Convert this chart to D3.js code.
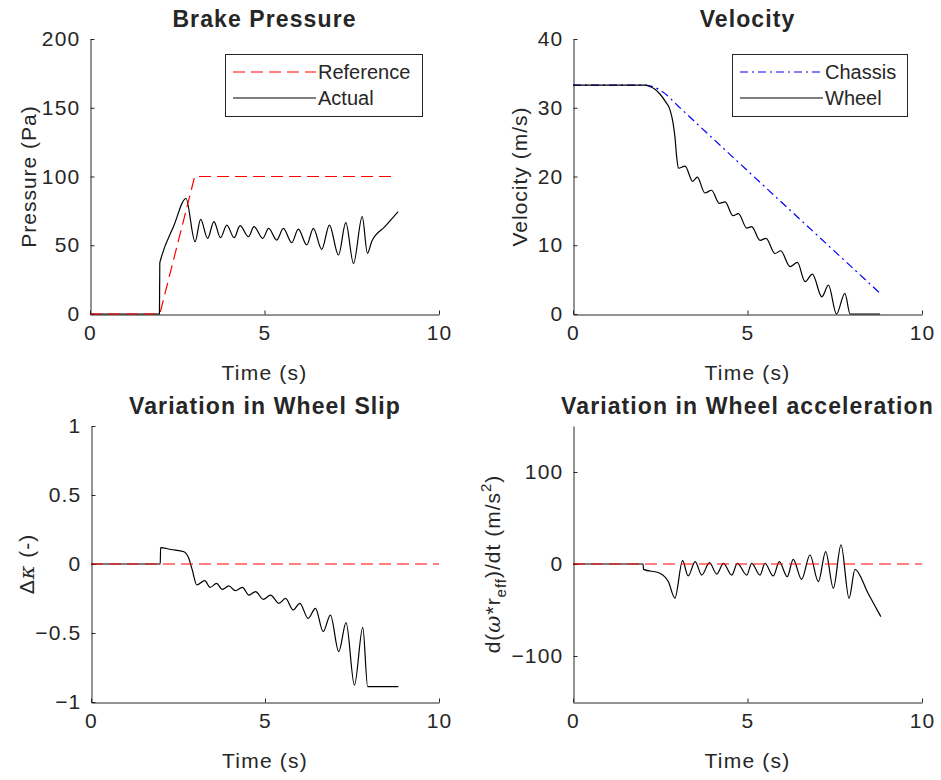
<!DOCTYPE html>
<html lang="en">
<head>
    <meta charset="UTF-8">
    <title>Brake test</title>
    <script src="https://d3js.org/d3.v7.min.js"></script>
    <style>
      body { margin: 0; background: #fff; }
      text { font-family: "Liberation Sans", Arial, sans-serif; fill: #262626; }
    </style>
</head>
<body>
<svg width="941" height="780"></svg>
<script>

// brake pressure
const refTime = [0, 2, 3, 8.8];
const refPressure = [0, 0, 100, 100];
const actTime = [0, 1.99, 2.0, 2.03, 2.4, 2.75, 3.01, 3.17, 3.37, 3.55, 3.74, 3.92, 4.13, 4.30, 4.54, 4.70, 4.95, 5.12, 5.35, 5.54, 5.78, 5.97, 6.21, 6.40, 6.64, 6.86, 7.12, 7.33, 7.55, 7.80, 7.95, 8.07, 8.45, 8.83];
const actPressure = [0, 0, 37, 40, 64, 84, 52.6, 68.8, 55.0, 67.2, 55.5, 64.7, 55.5, 64.2, 56.2, 63.5, 55.0, 62.3, 53.8, 62.3, 51.9, 61.8, 50.2, 62.3, 47.0, 64.7, 42.9, 66.4, 36.8, 70.8, 44.1, 52.6, 63.5, 74.4];

// velocity
const chassisTime = [0, 2.06, 2.3, 2.6, 3.0, 8.78];
const chassisVel = [33.3, 33.3, 33.05, 32.2, 30.3, 3.1];
const wheelTime = [0, 2.06, 2.2, 2.35, 2.49, 2.65, 2.78, 2.87, 2.92, 2.97, 3.02, 3.21, 3.43, 3.56, 3.78, 3.97, 4.19, 4.36, 4.58, 4.74, 4.98, 5.12, 5.36, 5.53, 5.79, 5.95, 6.22, 6.43, 6.65, 6.86, 7.13, 7.32, 7.55, 7.79, 7.94, 8.8];
const wheelVel = [33.3, 33.3, 33.1, 32.7, 32.0, 30.9, 29.7, 27.7, 25.8, 22.9, 21.2, 21.5, 19.3, 19.9, 17.6, 18.0, 16.1, 16.3, 14.3, 14.6, 12.5, 12.7, 10.7, 11.0, 8.8, 9.2, 6.9, 7.5, 4.7, 5.8, 2.5, 4.2, 0, 3.0, 0, 0];

// wheel slip variation
const slipTime = [0, 1.99, 2.0, 2.3, 2.67, 2.81, 2.91, 3.04, 3.27, 3.42, 3.61, 3.77, 3.96, 4.15, 4.35, 4.54, 4.73, 4.95, 5.16, 5.40, 5.59, 5.81, 6.00, 6.24, 6.45, 6.67, 6.88, 7.12, 7.33, 7.57, 7.81, 7.95, 8.83];
const slipDelta = [0, 0, 0.118, 0.105, 0.089, 0.041, -0.043, -0.152, -0.121, -0.169, -0.140, -0.184, -0.159, -0.193, -0.169, -0.225, -0.200, -0.256, -0.225, -0.285, -0.249, -0.333, -0.285, -0.394, -0.321, -0.490, -0.370, -0.635, -0.425, -0.877, -0.459, -0.889, -0.889];

// wheel acceleration variation
const accTime = [0, 2.01, 2.02, 2.49, 2.73, 2.92, 3.14, 3.30, 3.50, 3.69, 3.91, 4.12, 4.31, 4.55, 4.71, 4.98, 5.12, 5.36, 5.50, 5.74, 5.91, 6.14, 6.31, 6.55, 6.79, 7.03, 7.24, 7.46, 7.68, 7.91, 8.08, 8.45, 8.82];
const accDelta = [0, 0, -5.8, -10, -19, -37, 3.6, -13, 2.5, -12, 1.4, -10.9, 0.7, -12, 0.7, -12, 0.7, -12, 0.7, -13, 2.5, -13.8, 5.1, -16.7, 9.8, -19.2, 13.4, -26.4, 20.7, -37.3, -5.8, -31.5, -57.2];

const zeroTime = [0, 10];
const zeroLine = [0, 0];

const xTicks = [0, 5, 10];

const svg = d3.select('svg');

function zip(t, v) { return t.map((d, i) => [d, v[i]]); }

function panel(box, yDomain, yTicks, yFormat, title) {
    const g = svg.append('g');
    const x = d3.scaleLinear().domain([0, 10]).range([box.left, box.right]);
    const y = d3.scaleLinear().domain(yDomain).range([box.bottom, box.top]);

    const xa = g.append('g')
        .attr('transform', `translate(0,${box.bottom + 0.5})`)
        .call(d3.axisBottom(x).tickValues(xTicks).tickSizeInner(-4).tickSizeOuter(0).tickPadding(11));
    const ya = g.append('g')
        .attr('transform', `translate(${box.left + 0.5},0)`)
        .call(d3.axisLeft(y).tickValues(yTicks).tickFormat(yFormat).tickSizeInner(-4).tickSizeOuter(0).tickPadding(10));
    [xa, ya].forEach(a => {
        a.selectAll('path, line').attr('stroke', '#262626');
        a.selectAll('text').attr('font-size', 21).attr('fill', '#262626')
            .attr('font-family', '"Liberation Sans", Arial, sans-serif').style('letter-spacing', '1.2px');
    });

    g.append('text')
        .attr('x', (box.left + box.right) / 2)
        .attr('y', box.top - 12)
        .attr('text-anchor', 'middle')
        .attr('font-size', 23)
        .attr('font-weight', 'bold')
        .style('letter-spacing', '1.1px')
        .text(title);

    g.append('text')
        .attr('x', (box.left + box.right) / 2)
        .attr('y', box.bottom + 66)
        .attr('text-anchor', 'middle')
        .attr('font-size', 21)
        .style('letter-spacing', '1.2px')
        .text('Time (s)');

    return { g, x, y };
}

function line(p, t, v, color, dash, curve) {
    const gen = d3.line().x(d => p.x(d[0])).y(d => p.y(d[1])).curve(curve || d3.curveMonotoneX);
    p.g.append('path')
        .attr('d', gen(zip(t, v)))
        .attr('fill', 'none')
        .attr('stroke', color)
        .attr('stroke-width', 1.2)
        .attr('stroke-dasharray', dash || null);
}

function ylabel(p, xPos, build) {
    const cy = (p.y.range()[0] + p.y.range()[1]) / 2;
    const t = p.g.append('text')
        .attr('transform', `translate(${xPos},${cy}) rotate(-90)`)
        .attr('text-anchor', 'middle')
        .attr('font-size', 21)
        .style('letter-spacing', '1px');
    build(t);
}

function legend(p, box, items) {
    const lg = p.g.append('g');
    lg.append('rect')
        .attr('x', box.x + 0.5).attr('y', box.y + 0.5)
        .attr('width', box.w).attr('height', box.h)
        .attr('fill', '#fff').attr('stroke', '#262626');
    items.forEach((it, i) => {
        const yy = box.y + 18 + i * 26;
        lg.append('line')
            .attr('x1', box.x + 8).attr('x2', box.x + 91)
            .attr('y1', yy).attr('y2', yy)
            .attr('stroke', it.color).attr('stroke-width', 1.2)
            .attr('stroke-dasharray', it.dash || null);
        lg.append('text')
            .attr('x', box.x + 93).attr('y', yy + 7)
            .attr('font-size', 20)
            .text(it.label);
    });
}

const fmt = d3.format('');
const dashed = '12,6';
const dashDot = '8,4,2,4';

// Brake Pressure
const p1 = panel({ left: 90, right: 439, top: 39, bottom: 314 }, [0, 200], [0, 50, 100, 150, 200], fmt, 'Brake Pressure');
line(p1, actTime, actPressure, '#000');
line(p1, refTime, refPressure, '#ff0000', dashed, d3.curveLinear);
ylabel(p1, 36, t => t.text('Pressure (Pa)'));
legend(p1, { x: 225, y: 54, w: 197, h: 62 }, [
    { label: 'Reference', color: '#ff0000', dash: dashed },
    { label: 'Actual', color: '#000' }
]);

// Velocity
const p2 = panel({ left: 573, right: 922, top: 39, bottom: 314 }, [0, 40], [0, 10, 20, 30, 40], fmt, 'Velocity');
line(p2, chassisTime, chassisVel, '#0000ff', dashDot);
line(p2, wheelTime, wheelVel, '#000');
ylabel(p2, 527, t => t.text('Velocity (m/s)'));
legend(p2, { x: 732, y: 54, w: 175, h: 62 }, [
    { label: 'Chassis', color: '#0000ff', dash: dashDot },
    { label: 'Wheel', color: '#000' }
]);

// Variation in Wheel Slip
const p3 = panel({ left: 91, right: 439, top: 426, bottom: 702 }, [-1, 1], [-1, -0.5, 0, 0.5, 1], fmt, 'Variation in Wheel Slip');
line(p3, slipTime, slipDelta, '#000');
line(p3, zeroTime, zeroLine, '#ff0000', dashed, d3.curveLinear);
ylabel(p3, 34, t => {
    t.append('tspan').text('Δ');
    t.append('tspan').attr('font-style', 'italic').attr('font-family', '"DejaVu Serif", serif').text('κ');
    t.append('tspan').text(' (-)');
});

// Variation in Wheel acceleration
const p4 = panel({ left: 573, right: 922, top: 426, bottom: 702 }, [-150, 150], [-100, 0, 100], fmt, 'Variation in Wheel acceleration');
line(p4, accTime, accDelta, '#000');
line(p4, zeroTime, zeroLine, '#ff0000', dashed, d3.curveLinear);
ylabel(p4, 500, t => {
    t.append('tspan').text('d(');
    t.append('tspan').attr('font-style', 'italic').attr('font-family', '"DejaVu Serif", serif').text('ω');
    t.append('tspan').text('*r');
    t.append('tspan').attr('font-size', 15).attr('dy', 6).text('eff');
    t.append('tspan').attr('dy', -6).text(')/dt (m/s');
    t.append('tspan').attr('font-size', 15).attr('dy', -9).text('2');
    t.append('tspan').attr('dy', 9).text(')');
});

</script>
</body>
</html>
